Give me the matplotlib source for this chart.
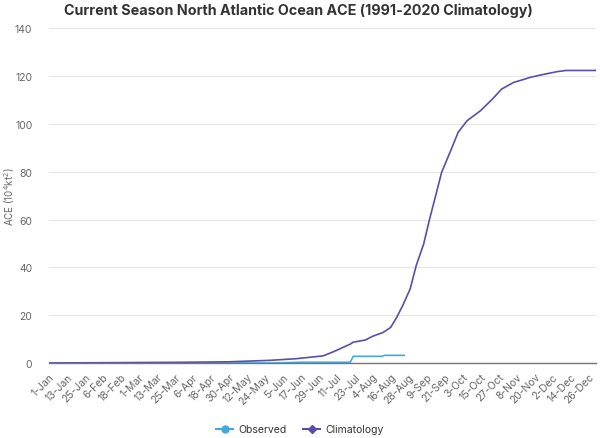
import matplotlib
matplotlib.use("Agg")
import matplotlib.pyplot as plt
from matplotlib.lines import Line2D

# --- data (day of year, 2024 calendar, ACE in 10^4 kt^2) ---
clim_days = [0, 30, 60, 90, 120, 147, 165, 183, 189, 194, 201, 203, 211, 216, 223,
             228, 232, 236, 241, 245, 250, 254, 258, 262, 268, 273, 279, 288, 296,
             302, 310, 316, 321, 328, 339, 345, 365]
clim_values = [0.0, 0.1, 0.2, 0.3, 0.5, 1.1, 1.8, 3.0, 4.5, 5.9, 7.9, 8.7, 9.6, 11.2, 12.8,
               14.9, 19.1, 24.0, 31.0, 40.7, 49.8, 60.3, 70.0, 79.8, 88.8, 96.5, 101.4,
               105.6, 110.5, 114.6, 117.4, 118.5, 119.5, 120.5, 121.9, 122.4, 122.4]

obs_days = [0, 150, 168, 201, 203, 222, 224, 237]
obs_values = [0.0, 0.0, 0.3, 0.3, 2.8, 2.8, 3.2, 3.2]

tick_labels = ["1-Jan", "13-Jan", "25-Jan", "6-Feb", "18-Feb", "1-Mar", "13-Mar", "25-Mar",
               "6-Apr", "18-Apr", "30-Apr", "12-May", "24-May", "5-Jun", "17-Jun", "29-Jun",
               "11-Jul", "23-Jul", "4-Aug", "16-Aug", "28-Aug", "9-Sep", "21-Sep", "3-Oct",
               "15-Oct", "27-Oct", "8-Nov", "20-Nov", "2-Dec", "14-Dec", "26-Dec"]
tick_days = [12 * i for i in range(len(tick_labels))]

OBS_COLOR = "#45a9df"
CLIM_COLOR = "#5a4fa6"

plt.rcParams["font.family"] = ["Inter", "DejaVu Sans"]

fig = plt.figure(figsize=(6.0, 4.39), dpi=100)
ax = fig.add_axes([49 / 600, 1 - 364 / 439, 547 / 600, 334.6 / 439])

ax.plot(obs_days, obs_values, color=OBS_COLOR, linewidth=1.2, label="Observed")
ax.plot(clim_days, clim_values, color=CLIM_COLOR, linewidth=1.2, label="Climatology")

ax.set_xlim(0, 365)
ax.set_ylim(0, 140)
ax.set_yticks(range(0, 141, 20))
ax.set_xticks(tick_days)
ax.set_xticklabels(tick_labels, rotation=45, ha="right", rotation_mode="anchor")

ax.grid(axis="y", color="#e6e6e6", linewidth=0.8)
ax.set_axisbelow(True)
for side in ["top", "right", "left"]:
    ax.spines[side].set_visible(False)
ax.spines["bottom"].set_color("#777777")
ax.spines["bottom"].set_linewidth(1.0)
ax.tick_params(axis="y", length=0, pad=12, labelsize=7.5, labelcolor="#666666")
ax.tick_params(axis="x", length=0, pad=6, labelsize=7.5, labelcolor="#666666")

ax.set_ylabel("ACE (10$^4$kt$^2$)", fontsize=7, color="#666666")
ax.yaxis.set_label_coords(-32 / 547, 0.5)

fig.text(0.497, 0.975, "Current Season North Atlantic Ocean ACE (1991-2020 Climatology)",
         ha="center", va="center", fontsize=10.3, fontweight="bold", color="#333333")

handles = [
    Line2D([], [], color=OBS_COLOR, marker="o", markersize=5, linewidth=1.5),
    Line2D([], [], color=CLIM_COLOR, marker="D", markersize=4.5, linewidth=1.5),
]
fig.legend(handles, ["Observed", "Climatology"], loc="center", bbox_to_anchor=(0.5, 0.02),
           ncol=2, frameon=False, fontsize=7.5, labelcolor="#333333",
           handlelength=1.6, handletextpad=0.5, columnspacing=1.6)

plt.savefig("out.png", dpi=100)
